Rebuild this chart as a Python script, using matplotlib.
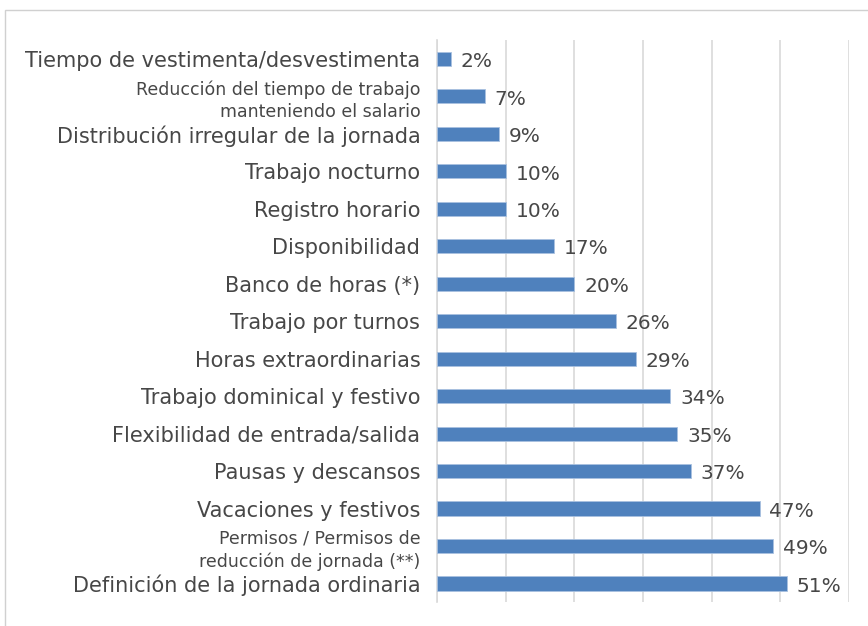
import matplotlib

matplotlib.use("Agg")

import matplotlib.pyplot as plt
from matplotlib.patches import Rectangle

# Categories listed bottom to top, as drawn on the y axis
categories = [
    "Definición de la jornada ordinaria",
    "Permisos / Permisos de\nreducción de jornada (**)",
    "Vacaciones y festivos",
    "Pausas y descansos",
    "Flexibilidad de entrada/salida",
    "Trabajo dominical y festivo",
    "Horas extraordinarias",
    "Trabajo por turnos",
    "Banco de horas (*)",
    "Disponibilidad",
    "Registro horario",
    "Trabajo nocturno",
    "Distribución irregular de la jornada",
    "Reducción del tiempo de trabajo\nmanteniendo el salario",
    "Tiempo de vestimenta/desvestimenta",
]
values = [51, 49, 47, 37, 35, 34, 29, 26, 20, 17, 10, 10, 9, 7, 2]
x_ticks = [0, 10, 20, 30, 40, 50, 60]

plt.rcParams["font.family"] = ["DejaVu Sans"]
text_color = "#474747"
bar_color = "#4F81BD"

fig = plt.figure(figsize=(8.68, 6.26), dpi=100)
ax = fig.add_axes([0.5035, 0.038, 0.4745, 0.898])

# light frame around the chart area, as in the source
fig.patches.append(
    Rectangle((5 / 868, -0.1), 1.2, 1.1 - 10 / 626, transform=fig.transFigure,
              fill=False, edgecolor="#d0d0d0", linewidth=1.0)
)

pos = range(len(categories))
ax.barh(pos, values, height=0.375, color=bar_color, edgecolor="#a9c1e0", linewidth=0.6, zorder=3)

for y, v in zip(pos, values):
    ax.annotate(f"{v}%", (v, y), xytext=(7, -2), textcoords="offset points",
                va="center", ha="left", fontsize=14.5, color=text_color)

ax.set_xlim(0, 60)
ax.set_ylim(-0.5, len(categories) - 0.5)
ax.set_xticks(x_ticks)
ax.set_xticklabels([])
ax.tick_params(axis="x", length=0)
ax.grid(axis="x", color="#d9d9d9", linewidth=1.2, zorder=0)

ax.set_yticks(list(pos))
ax.set_yticklabels(categories)
ax.tick_params(axis="y", length=0, pad=12)
for lab in ax.get_yticklabels():
    lab.set_color(text_color)
    if "\n" in lab.get_text():
        lab.set_fontsize(12.5)
        lab.set_linespacing(1.35)
    else:
        lab.set_fontsize(15)

for side in ["top", "right", "bottom"]:
    ax.spines[side].set_visible(False)
ax.spines["left"].set_color("#d9d9d9")
ax.spines["left"].set_linewidth(1.2)

fig.savefig("out.png")
